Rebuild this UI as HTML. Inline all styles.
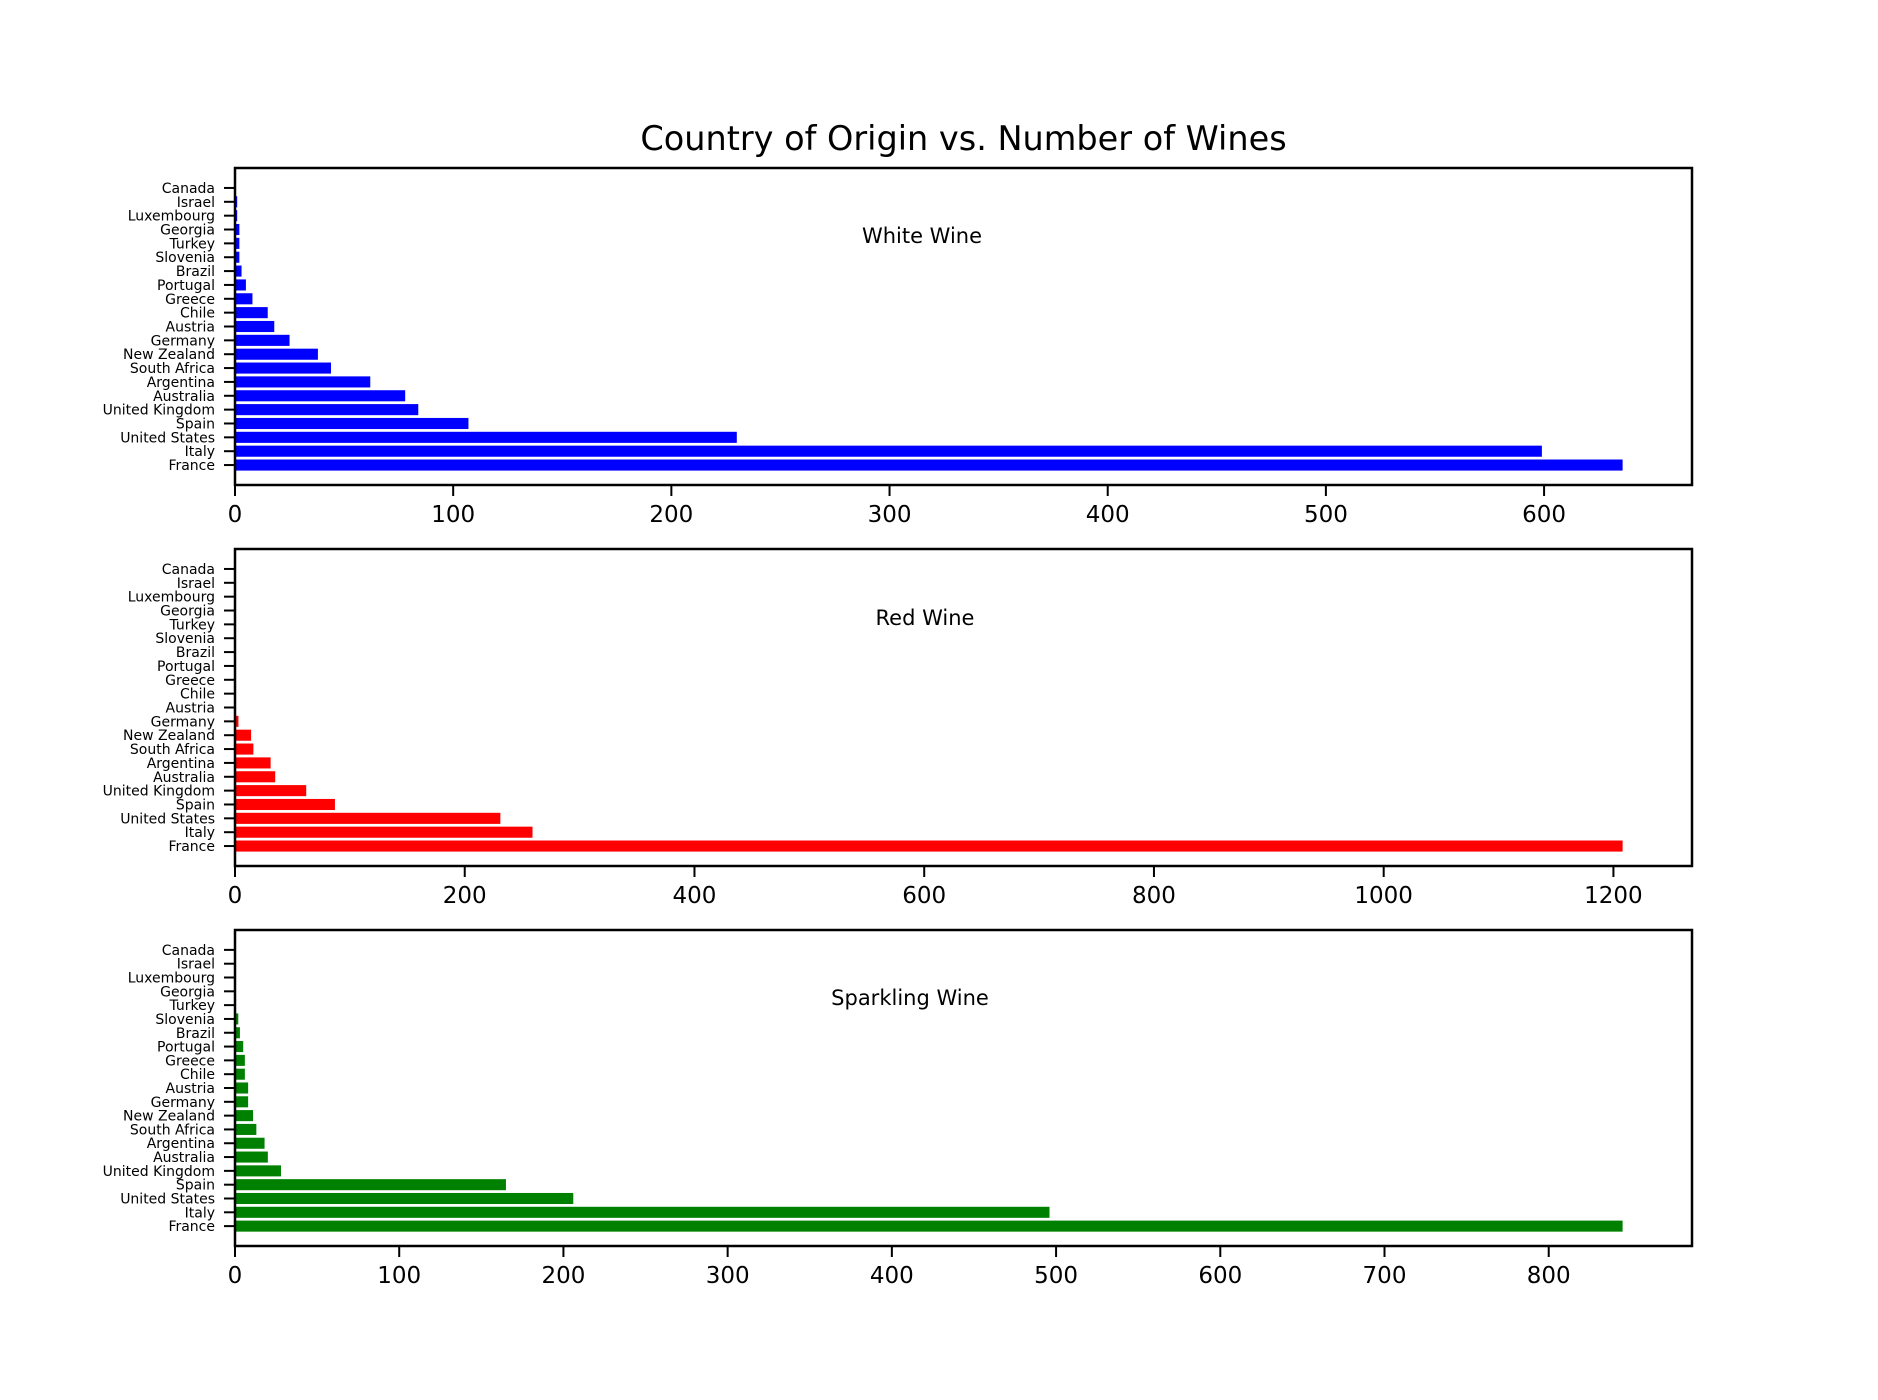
<!DOCTYPE html>
<html><head><meta charset="utf-8"><style>
body{margin:0;background:#fff}
svg{display:block;font-family:"DejaVu Sans","Liberation Sans",sans-serif}
</style></head><body>
<svg id="chart" width="1878" height="1400" viewBox="0 0 1878 1400" xmlns="http://www.w3.org/2000/svg">
<rect width="1878" height="1400" fill="#fff"/>
<text x="963.5" y="150" text-anchor="middle" font-size="33.5" fill="#000">Country of Origin vs. Number of Wines</text>
</svg>
<script>
const categories = ["France","Italy","United States","Spain","United Kingdom","Australia","Argentina","South Africa","New Zealand","Germany","Austria","Chile","Greece","Portugal","Brazil","Slovenia","Turkey","Georgia","Luxembourg","Israel","Canada"];
const whiteValues = [636,599,230,107,84,78,62,44,38,25,18,15,8,5,3,2,2,2,1,1,0];
const redValues = [1208,259,231,87,62,35,31,16,14,3,0,0,0,0,0,0,0,0,0,0,0];
const sparklingValues = [845,496,206,165,28,20,18,13,11,8,8,6,6,5,3,2,0,0,0,0,0];
const whiteTicks = [0,100,200,300,400,500,600];
const redTicks = [0,200,400,600,800,1000,1200];
const sparklingTicks = [0,100,200,300,400,500,600,700,800];

const NS = "http://www.w3.org/2000/svg";
const svg = document.getElementById("chart");
function mk(tag, attrs, parent){ const e=document.createElementNS(NS,tag); for(const k in attrs) e.setAttribute(k,attrs[k]); (parent||svg).appendChild(e); return e; }

const L=235, R=1692;
const panels = [
  {name:"white", label:"White Wine", vals:whiteValues, ticks:whiteTicks, color:"#0000ff", top:168, bot:485, lx:922, ly:243},
  {name:"red", label:"Red Wine", vals:redValues, ticks:redTicks, color:"#ff0000", top:549, bot:866, lx:925, ly:625},
  {name:"sparkling", label:"Sparkling Wine", vals:sparklingValues, ticks:sparklingTicks, color:"#008000", top:930, bot:1246, lx:910, ly:1005}
];
panels.forEach(p=>{
  const g = mk("g",{});
  
  
  const xmax = Math.max(...p.vals)*1.05 || 1;
  const n = categories.length;
  const ymin = -0.4 - 0.05*(n-1+0.8), ymax = n-1+0.4 + 0.05*(n-1+0.8);
  const xs = v => L + v/xmax*(R-L);
  const ys = v => p.bot - (v-ymin)/(ymax-ymin)*(p.bot-p.top);
  categories.forEach((c,i)=>{
    const v = p.vals[i];
    const b = mk("rect",{x:xs(0), y:ys(i+0.4), width:Math.max(0,xs(v)-xs(0)), height:ys(i-0.4)-ys(i+0.4), fill:p.color}, g);
    
    
    const t = mk("line",{x1:L-11, x2:L, y1:ys(i), y2:ys(i), stroke:"#000", "stroke-width":2}, g);
    
    
    const lb = mk("text",{x:L-20, y:ys(i)+5, "text-anchor":"end", "font-size":14, fill:"#000"}, g);
    lb.textContent = c;
    
    
  });
  p.ticks.forEach(tv=>{
    const x = xs(tv);
    const t = mk("line",{x1:x, x2:x, y1:p.bot, y2:p.bot+11, stroke:"#000", "stroke-width":2}, g);
    
    
    const lb = mk("text",{x:x, y:p.bot+37, "text-anchor":"middle", "font-size":23, fill:"#000"}, g);
    lb.textContent = tv;
    
    
  });
  const fr = mk("rect",{x:L, y:p.top, width:R-L, height:p.bot-p.top, fill:"none", stroke:"#000", "stroke-width":2.5}, g);
  
  
  const tx = mk("text",{x:p.lx, y:p.ly, "text-anchor":"middle", "font-size":21, fill:"#000"}, g);
  tx.textContent = p.label;
  
  
});
</script>
</body></html>
